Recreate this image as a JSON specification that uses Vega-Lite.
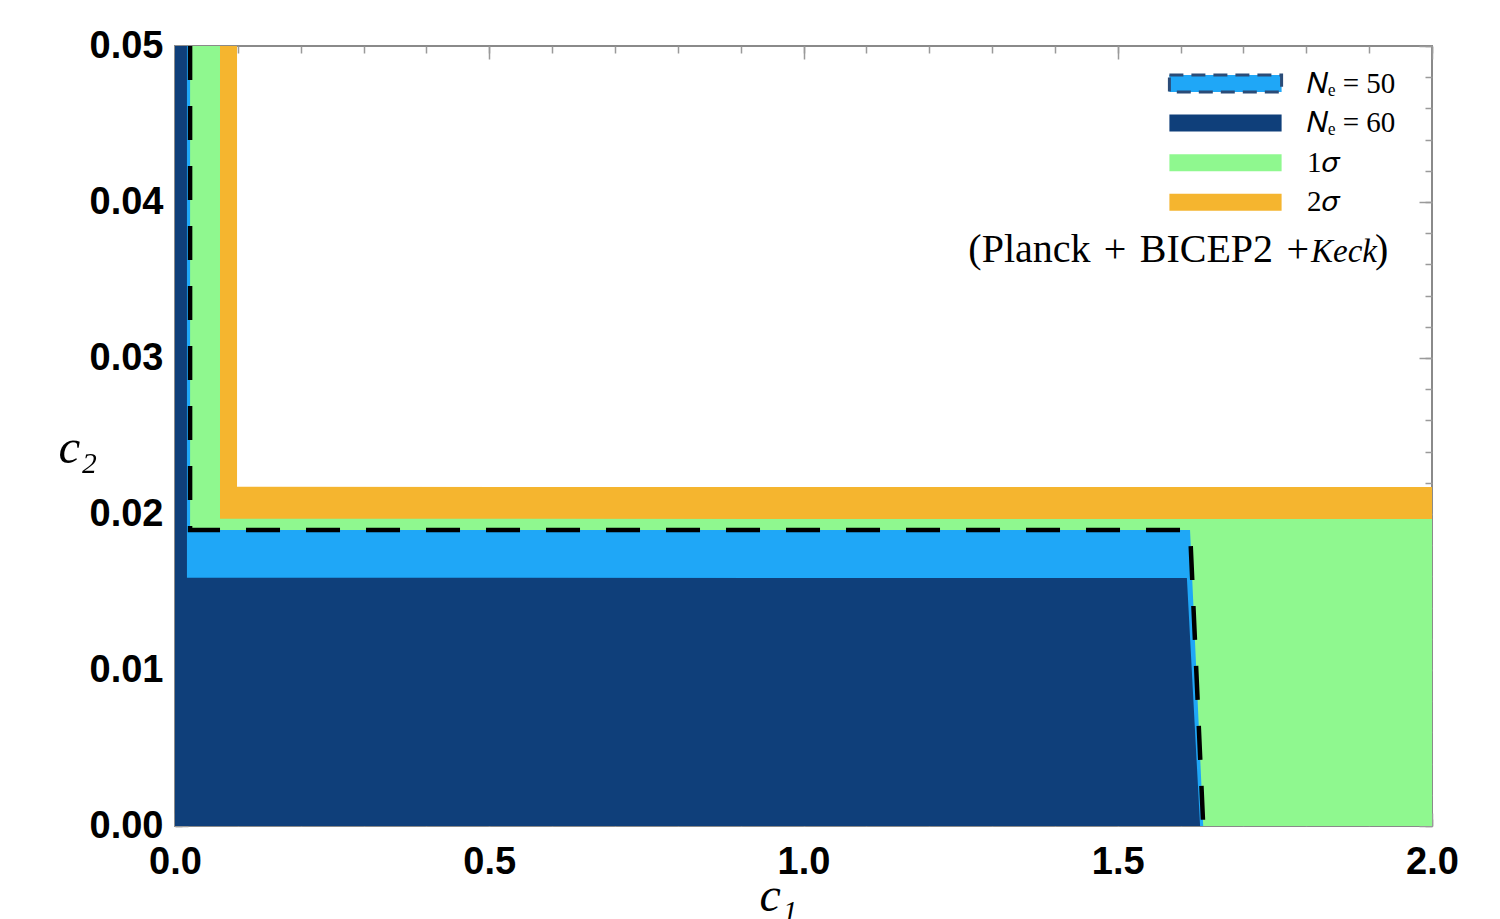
{
  "$schema": "https://vega.github.io/schema/vega-lite/v6.json",
  "width": 1257,
  "height": 780,
  "autosize": {"type": "none"},
  "padding": {"left": 175, "top": 46, "right": 68, "bottom": 93},
  "background": "white",
  "config": {
    "view": {"stroke": "#8a8a8a", "strokeWidth": 2},
    "axis": {"grid": false, "domain": false, "tickColor": "#9a9a9a", "tickWidth": 1.5, "zindex": 1, "labelFlush": false, "labelOverlap": false}
  },
  "datasets": {
    "regions": [
      {"region": "s2", "c2": 0, "c1": 2.0},
      {"region": "s2", "c2": 0.02173, "c1": 2.0},
      {"region": "s2", "c2": 0.02174, "c1": 0.0987},
      {"region": "s2", "c2": 0.05, "c1": 0.0987},
      {"region": "s1", "c2": 0, "c1": 2.0},
      {"region": "s1", "c2": 0.01968, "c1": 2.0},
      {"region": "s1", "c2": 0.01969, "c1": 0.0716},
      {"region": "s1", "c2": 0.05, "c1": 0.0716},
      {"region": "N50", "c2": 0, "c1": 1.636},
      {"region": "N50", "c2": 0.01897, "c1": 1.615},
      {"region": "N50", "c2": 0.01898, "c1": 0.024},
      {"region": "N50", "c2": 0.05, "c1": 0.024},
      {"region": "N60", "c2": 0, "c1": 1.631},
      {"region": "N60", "c2": 0.0159, "c1": 1.61},
      {"region": "N60", "c2": 0.01591, "c1": 0.019},
      {"region": "N60", "c2": 0.05, "c1": 0.019}
    ],
    "edge": [
      {"i": 0, "c1": 0.024, "c2": 0.05},
      {"i": 1, "c1": 0.024, "c2": 0.01897},
      {"i": 2, "c1": 1.615, "c2": 0.01897},
      {"i": 3, "c1": 1.636, "c2": 0}
    ],
    "note": [
      {"part": "a", "text": "(Planck\u2004+\u2004BICEP2\u2004+"},
      {"part": "b", "text": "Keck"},
      {"part": "c", "text": ")"}
    ]
  },
  "resolve": {"axis": {"x": "independent", "y": "independent"}},
  "layer": [
    {
      "data": {"name": "regions"},
      "transform": [{"filter": "datum.region === 's2'"}],
      "mark": {"type": "area", "orient": "horizontal", "opacity": 1},
      "encoding": {
        "y": {"field": "c2", "type": "quantitative", "scale": {"domain": [0, 0.05], "nice": false},
          "axis": {"orient": "left", "values": [0, 0.01, 0.02, 0.03, 0.04, 0.05], "format": ".2f", "tickSize": -13,
            "labelFont": "Liberation Sans", "labelFontWeight": "bold", "labelFontSize": 38, "labelColor": "black", "labelPadding": 25,
            "title": "c₂", "titleFont": "Liberation Serif", "titleFontStyle": "italic", "titleFontWeight": "normal", "titleFontSize": 49, "titleColor": "black",
            "titleAngle": 0, "titleAlign": "left", "titleBaseline": "alphabetic", "titleX": -117, "titleY": 416}},
        "x": {"field": "c1", "type": "quantitative", "stack": null, "scale": {"domain": [0, 2], "nice": false},
          "axis": {"orient": "bottom", "values": [0, 0.5, 1, 1.5, 2], "format": ".1f", "tickSize": -13,
            "labelFont": "Liberation Sans", "labelFontWeight": "bold", "labelFontSize": 38, "labelColor": "black", "labelPadding": 30,
            "title": "c₁", "titleFont": "Liberation Serif", "titleFontStyle": "italic", "titleFontWeight": "normal", "titleFontSize": 48, "titleColor": "black",
            "titleAlign": "center", "titleBaseline": "alphabetic", "titleX": 603, "titleY": 84}},
        "color": {"field": "region", "type": "nominal",
          "scale": {"domain": ["N50", "N60", "s1", "s2"], "range": ["#1FA7F7", "#0F3F7A", "#8FF88F", "#F5B52F"]},
          "legend": {
            "title": null, "orient": "none", "legendX": 1036, "legendY": 23, "padding": 0,
            "symbolType": "M-6.6,-1H6.6V1H-6.6Z", "symbolSize": 289, "symbolOpacity": 1, "symbolStrokeWidth": 0,
            "labelOffset": 67, "rowPadding": 9.6,
            "labelFont": "Liberation Serif", "labelFontSize": 29, "labelColor": "black", "labelLimit": 300,
            "labelExpr": "datum.value === 'N50' ? '𝑁ₑ = 50' : datum.value === 'N60' ? '𝑁ₑ = 60' : datum.value === 's1' ? '1𝜎' : '2𝜎'",
            "encode": {"symbols": {"update": {
              "stroke": {"signal": "datum.value === 'N50' ? '#2b4c78' : 'transparent'"},
              "strokeWidth": {"signal": "datum.value === 'N50' ? 3 : 0"},
              "strokeDash": {"signal": "datum.value === 'N50' ? [14, 8] : [1, 0]"}
            }}}
          }}
      }
    },
    {
      "data": {"name": "regions"},
      "transform": [{"filter": "datum.region === 's1'"}],
      "mark": {"type": "area", "orient": "horizontal", "opacity": 1},
      "encoding": {
        "y": {"field": "c2", "type": "quantitative",
          "axis": {"orient": "left", "values": [0, 0.002, 0.004, 0.006, 0.008, 0.01, 0.012, 0.014, 0.016, 0.018, 0.02, 0.022, 0.024, 0.026, 0.028, 0.03, 0.032, 0.034, 0.036, 0.038, 0.04, 0.042, 0.044, 0.046, 0.048, 0.05], "labels": false, "tickSize": -7, "title": null}},
        "x": {"field": "c1", "type": "quantitative", "stack": null,
          "axis": {"orient": "bottom", "values": [0, 0.1, 0.2, 0.3, 0.4, 0.5, 0.6, 0.7, 0.8, 0.9, 1, 1.1, 1.2, 1.3, 1.4, 1.5, 1.6, 1.7, 1.8, 1.9, 2], "labels": false, "tickSize": -7, "title": null}},
        "color": {"field": "region", "type": "nominal"}
      }
    },
    {
      "data": {"name": "regions"},
      "transform": [{"filter": "datum.region === 'N50'"}],
      "mark": {"type": "area", "orient": "horizontal", "opacity": 1},
      "encoding": {
        "y": {"field": "c2", "type": "quantitative",
          "axis": {"orient": "right", "values": [0, 0.01, 0.02, 0.03, 0.04, 0.05], "labels": false, "tickSize": -13, "title": null}},
        "x": {"field": "c1", "type": "quantitative", "stack": null,
          "axis": {"orient": "top", "values": [0, 0.5, 1, 1.5, 2], "labels": false, "tickSize": -13, "title": null}},
        "color": {"field": "region", "type": "nominal"}
      }
    },
    {
      "data": {"name": "regions"},
      "transform": [{"filter": "datum.region === 'N60'"}],
      "mark": {"type": "area", "orient": "horizontal", "opacity": 1},
      "encoding": {
        "y": {"field": "c2", "type": "quantitative",
          "axis": {"orient": "right", "values": [0, 0.002, 0.004, 0.006, 0.008, 0.01, 0.012, 0.014, 0.016, 0.018, 0.02, 0.022, 0.024, 0.026, 0.028, 0.03, 0.032, 0.034, 0.036, 0.038, 0.04, 0.042, 0.044, 0.046, 0.048, 0.05], "labels": false, "tickSize": -7, "title": null}},
        "x": {"field": "c1", "type": "quantitative", "stack": null,
          "axis": {"orient": "top", "values": [0, 0.1, 0.2, 0.3, 0.4, 0.5, 0.6, 0.7, 0.8, 0.9, 1, 1.1, 1.2, 1.3, 1.4, 1.5, 1.6, 1.7, 1.8, 1.9, 2], "labels": false, "tickSize": -7, "title": null}},
        "color": {"field": "region", "type": "nominal"}
      }
    },
    {
      "data": {"name": "edge"},
      "mark": {"type": "line", "color": "black", "strokeWidth": 4.5, "strokeDash": [34, 26]},
      "encoding": {
        "x": {"field": "c1", "type": "quantitative", "axis": null},
        "y": {"field": "c2", "type": "quantitative", "axis": null},
        "order": {"field": "i", "type": "quantitative"}
      }
    },
    {
      "data": {"name": "note"},
      "transform": [{"filter": "datum.part === 'a'"}],
      "mark": {"type": "text", "font": "Liberation Serif", "fontSize": 40, "align": "right", "baseline": "alphabetic", "color": "black", "dx": -2},
      "encoding": {
        "x": {"datum": 1.8075, "type": "quantitative", "axis": null},
        "y": {"datum": 0.03615, "type": "quantitative", "axis": null},
        "text": {"field": "text"}
      }
    },
    {
      "data": {"name": "note"},
      "transform": [{"filter": "datum.part === 'b'"}],
      "mark": {"type": "text", "font": "Liberation Serif", "fontStyle": "italic", "fontSize": 33, "align": "left", "baseline": "alphabetic", "color": "black", "dx": 0},
      "encoding": {
        "x": {"datum": 1.8075, "type": "quantitative", "axis": null},
        "y": {"datum": 0.03615, "type": "quantitative", "axis": null},
        "text": {"field": "text"}
      }
    },
    {
      "data": {"name": "note"},
      "transform": [{"filter": "datum.part === 'c'"}],
      "mark": {"type": "text", "font": "Liberation Serif", "fontSize": 40, "align": "left", "baseline": "alphabetic", "color": "black", "dx": 64},
      "encoding": {
        "x": {"datum": 1.8075, "type": "quantitative", "axis": null},
        "y": {"datum": 0.03615, "type": "quantitative", "axis": null},
        "text": {"field": "text"}
      }
    }
  ]
}
